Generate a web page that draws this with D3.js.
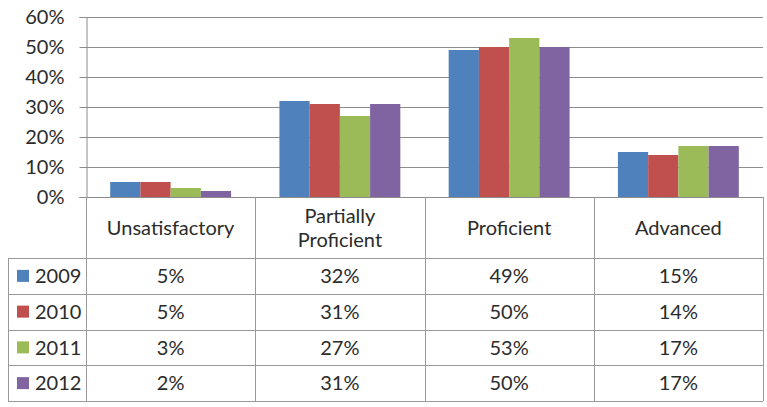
<!DOCTYPE html>
<html>
<head>
<meta charset="utf-8">
<script src="https://cdn.jsdelivr.net/npm/d3@7"></script>
<style>
  html, body { margin: 0; padding: 0; background: #fff; }
  svg { display: block; }
  text { font-family: Lato, "Open Sans", sans-serif; fill: #2b2b2b; }
</style>
</head>
<body>
<div id="chart"></div>
<script>
// Column chart with data table (Excel style): performance levels by year

const categories = ["Unsatisfactory", "Partially Proficient", "Proficient", "Advanced"];
const headerLines = [["Unsatisfactory"], ["Partially", "Proficient"], ["Proficient"], ["Advanced"]];
const years = ["2009", "2010", "2011", "2012"];
const values2009 = [5, 32, 49, 15];
const values2010 = [5, 31, 50, 14];
const values2011 = [3, 27, 53, 17];
const values2012 = [2, 31, 50, 17];
const yTicks = [0, 10, 20, 30, 40, 50, 60];

const seriesValues = [values2009, values2010, values2011, values2012];
const colors = ["#4f81bd", "#c0504d", "#9bbb59", "#8064a2"];

const W = 767, H = 407;
const plot = { left: 86, right: 763, top: 17, bottom: 197 };
const table = { left: 8, headerBottom: 258, bottom: 401 };
const fontSize = 20;

const svg = d3.select("#chart").append("svg")
  .attr("width", W)
  .attr("height", H);

svg.append("rect").attr("width", W).attr("height", H).attr("fill", "#fff");

const x = d3.scaleBand()
  .domain(categories)
  .range([plot.left, plot.right]);

const xYear = d3.scaleBand()
  .domain(years)
  .range([0, x.bandwidth()])
  .paddingInner(0)
  .paddingOuter(0.8);

const y = d3.scaleLinear()
  .domain([0, 60])
  .range([plot.bottom, plot.top]);

// gridlines
svg.append("g")
  .selectAll("line")
  .data(yTicks.filter(d => d > 0))
  .join("line")
  .attr("x1", plot.left)
  .attr("x2", plot.right)
  .attr("y1", d => Math.round(y(d)) + 0.5)
  .attr("y2", d => Math.round(y(d)) + 0.5)
  .attr("stroke", "#8c8c8c");

// bars
const rows = years.map((yr, i) => ({ year: yr, values: seriesValues[i], color: colors[i] }));

svg.append("g")
  .selectAll("g")
  .data(rows)
  .join("g")
  .attr("fill", d => d.color)
  .selectAll("rect")
  .data(d => d.values.map((v, j) => ({ year: d.year, cat: categories[j], value: v })))
  .join("rect")
  .attr("x", d => x(d.cat) + xYear(d.year))
  .attr("width", xYear.bandwidth())
  .attr("y", d => y(d.value))
  .attr("height", d => y(0) - y(d.value));

// y axis
const yAxis = svg.append("g")
  .attr("transform", `translate(${plot.left + 0.5},0)`)
  .call(d3.axisLeft(y).tickValues(yTicks).tickFormat(d => d + "%").tickSize(7).tickPadding(15));

yAxis.select(".domain").attr("stroke", "#8c8c8c");
yAxis.selectAll(".tick line").attr("stroke", "#8c8c8c");
yAxis.selectAll(".tick text")
  .style("font-size", fontSize + "px")
  .style("font-family", "Lato, 'Open Sans', sans-serif")
  .attr("fill", "#2b2b2b");

// data table
const tableG = svg.append("g");
const rowY = d3.scaleBand()
  .domain(years)
  .range([table.headerBottom, table.bottom]);

const border = "#9a9a9a";
const colEdges = categories.map(c => x(c)).concat([plot.right]);

// axis line / header top
tableG.append("line")
  .attr("x1", plot.left).attr("x2", plot.right)
  .attr("y1", plot.bottom + 0.5).attr("y2", plot.bottom + 0.5)
  .attr("stroke", "#8c8c8c");

// vertical column lines
tableG.selectAll(".vcol")
  .data(colEdges)
  .join("line")
  .attr("x1", d => Math.round(d) + 0.5)
  .attr("x2", d => Math.round(d) + 0.5)
  .attr("y1", plot.bottom)
  .attr("y2", table.bottom)
  .attr("stroke", border);

// left edge of legend column
tableG.append("line")
  .attr("x1", table.left + 0.5).attr("x2", table.left + 0.5)
  .attr("y1", table.headerBottom).attr("y2", table.bottom)
  .attr("stroke", border);

// horizontal row lines
tableG.selectAll(".hrow")
  .data(years.map(yr => rowY(yr)).concat([table.bottom]))
  .join("line")
  .attr("x1", table.left)
  .attr("x2", plot.right)
  .attr("y1", d => Math.round(d) + 0.5)
  .attr("y2", d => Math.round(d) + 0.5)
  .attr("stroke", border);

// header labels
const headerMid = (plot.bottom + table.headerBottom) / 2;
tableG.selectAll(".hdr")
  .data(categories.map((c, i) => ({ cat: c, lines: headerLines[i] })))
  .join("text")
  .attr("text-anchor", "middle")
  .style("font-size", fontSize + "px")
  .each(function (d) {
    const t = d3.select(this);
    const lh = 24;
    const start = headerMid + 0.5 - (d.lines.length - 1) * lh / 2;
    d.lines.forEach((ln, k) => {
      t.append("tspan")
        .attr("x", x(d.cat) + x.bandwidth() / 2)
        .attr("y", start + k * lh)
        .attr("dy", "0.36em")
        .text(ln);
    });
  });

// legend column (key + year)
const legendRows = tableG.selectAll(".leg")
  .data(rows)
  .join("g")
  .attr("transform", d => `translate(0,${rowY(d.year) + rowY.bandwidth() / 2})`);

legendRows.append("rect")
  .attr("x", 17)
  .attr("y", -6)
  .attr("width", 12)
  .attr("height", 12)
  .attr("fill", d => d.color);

legendRows.append("text")
  .attr("x", 35)
  .attr("dy", "0.36em")
  .style("font-size", fontSize + "px")
  .text(d => d.year);

// value cells
legendRows.selectAll(".val")
  .data(d => d.values.map((v, j) => ({ cat: categories[j], value: v })))
  .join("text")
  .attr("x", d => x(d.cat) + x.bandwidth() / 2)
  .attr("dy", "0.36em")
  .attr("text-anchor", "middle")
  .style("font-size", fontSize + "px")
  .text(d => d.value + "%");
</script>
</body>
</html>
